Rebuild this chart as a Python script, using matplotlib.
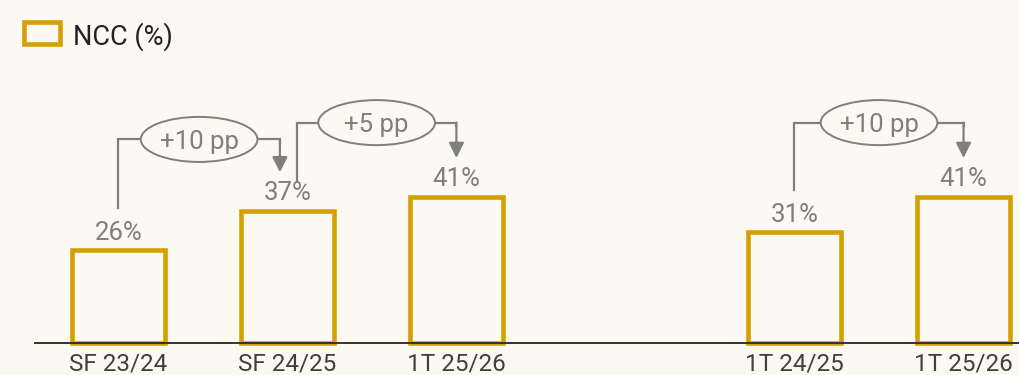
import matplotlib.pyplot as plt
from matplotlib.patches import Ellipse, Rectangle

plt.rcParams['font.family'] = ['Roboto', 'DejaVu Sans']

# NCC share by period
categories = ['SF 23/24', 'SF 24/25', '1T 25/26', '1T 24/25', '1T 25/26']
positions = [0, 1, 2, 4, 5]
ncc = [26, 37, 41, 31, 41]

# change brackets: (from bar, to bar, label, start offset, end offset, start gap, bracket level)
changes = [
    (0, 1, '+10 pp', 0.0, -0.044, 11.8, 57),
    (1, 2, '+5 pp', 0.056, 0.0, 8.3, 61.7),
    (3, 4, '+10 pp', 0.0, 0.0, 11.8, 61.7),
]

bg = '#fcf9f2'
gold = '#d4a000'
grey = '#7f7f7f'

fig = plt.figure(figsize=(10.2, 3.75), dpi=100, facecolor=bg)
ax = fig.add_axes([0, 0, 1, 1])
ax.set_facecolor(bg)
ax.set_xlim(-0.70, 5.334)
ax.set_ylim(-8.9, 96.0)
ax.axis('off')

ax.bar(positions, ncc, width=0.55, fill=False, edgecolor=gold, linewidth=3.3, zorder=2)
ax.plot([-0.49, 5.4], [0, 0], color='#333333', lw=1.4, zorder=3)

for x, v, name in zip(positions, ncc, categories):
    ax.text(x, v + 3.0, f'{v}%', ha='center', va='baseline', fontsize=18.5, color=grey)
    ax.text(x, -7.6, name, ha='center', va='baseline', fontsize=17.5, color='#404040')

for i, j, label, off0, off1, gap, level in changes:
    x0 = positions[i] + off0
    x1 = positions[j] + off1
    y0 = ncc[i] + gap
    y1 = ncc[j] + 10.8
    xm = (x0 + x1) / 2
    ax.plot([x0, x0, x1, x1], [y0, level, level, level - 1], color=grey, lw=1.6,
            solid_joinstyle='miter', zorder=1)
    ax.annotate('', xy=(x1, y1), xytext=(x1, level),
                arrowprops=dict(arrowstyle='-|>', color=grey, lw=1.6,
                                mutation_scale=23, shrinkA=0, shrinkB=0))
    ax.add_patch(Ellipse((xm, level), 0.69, 12.6, facecolor=bg, edgecolor=grey,
                         lw=1.4, zorder=4))
    ax.text(xm, level, label, ha='center', va='center_baseline', fontsize=18.5,
            color=grey, zorder=5)

# legend swatch
fig.add_artist(Rectangle((24 / 1020, 1 - 44 / 375), 36 / 1020, 22 / 375,
                         transform=fig.transFigure, fill=False, edgecolor=gold, lw=3.3))
fig.text(73 / 1020, 1 - 33 / 375, 'NCC (%)', ha='left', va='center_baseline',
         fontsize=19.5, color='#222222')

fig.savefig('out.png', dpi=100, facecolor=bg)
